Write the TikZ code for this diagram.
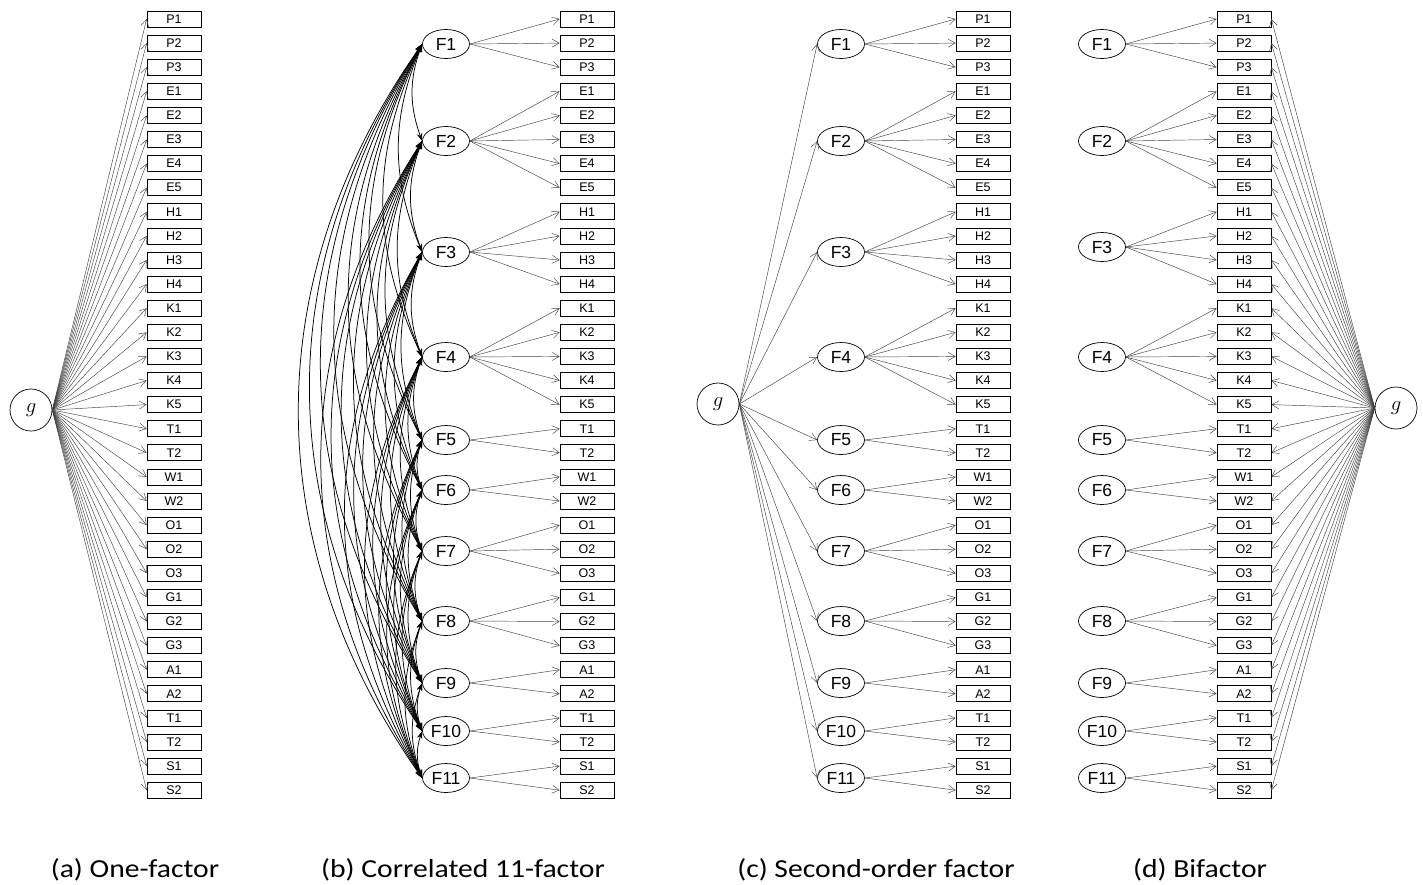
\documentclass[tikz,border=0pt]{standalone}
\usepackage{fontspec}
\setmainfont{Liberation Sans}
\newfontfamily\capfont[FakeStretch=1.14]{Carlito}
\usetikzlibrary{arrows.meta,shapes.geometric}
\tikzset{
 ind/.style={draw=black, line width=0.7pt, minimum width=54pt, minimum height=16pt, inner sep=0pt, font=\fontsize{12.5}{12.5}\selectfont},
 fac/.style={draw=black, line width=0.7pt, ellipse, minimum width=47pt, minimum height=29pt, inner sep=0pt, font=\fontsize{17.5}{17.5}\selectfont},
 gen/.style={draw=black, line width=0.7pt, circle, minimum size=42pt, inner sep=0pt, font=\fontsize{20}{20}\selectfont},
 load/.style={draw=black!75, line width=0.45pt, -{Straight Barb[length=7pt,width=8pt]}},
 cov/.style={draw=black, line width=0.75pt, {Stealth[length=8pt,width=5.5pt]}-{Stealth[length=8pt,width=5.5pt]}},
 captext/.style={font=\capfont\fontsize{26}{26}\selectfont, anchor=base}
}
\begin{document}
\begin{tikzpicture}[x=1pt,y=-1pt]
\useasboundingbox (0,0) rectangle (1423,884);
% indicators
\foreach \lab [count=\i from 0] in {P1,P2,P3,E1,E2,E3,E4,E5,H1,H2,H3,H4,K1,K2,K3,K4,K5,T1,T2,W1,W2,O1,O2,O3,G1,G2,G3,A1,A2,T1,T2,S1,S2}{
  \pgfmathsetmacro\yy{19+\i*24.1}
  \node[ind] (a\i) at (174,\yy) {\lab};
  \node[ind] (b\i) at (587,\yy) {\lab};
  \node[ind] (c\i) at (983,\yy) {\lab};
  \node[ind] (d\i) at (1244,\yy) {\lab};
}
% general factors
\node[gen] (ga) at (31,410) {$g$};
\node[gen] (gc) at (718,404) {$g$};
\node[gen] (gd) at (1396,408) {$g$};
% group factors
\foreach \fy [count=\k] in {44,141,252,357,440,490,551,621,683,731,778}{
  \node[fac] (bF\k) at (446,\fy) {F\k};
  \node[fac] (cF\k) at (841,\fy) {F\k};
}
\foreach \fy [count=\k] in {44,141,247,357,440,490,551,621,683,731,778}{
  \node[fac] (dF\k) at (1102,\fy) {F\k};
}
% (a) one factor and (d) general loadings
\foreach \i in {0,...,32}{
  \draw[load] (ga.east) -- (a\i.west);
  \draw[load] (gd.west) -- (d\i.east);
}
% loadings of group factors
\foreach \k/\s/\e in {1/0/2,2/3/7,3/8/11,4/12/16,5/17/18,6/19/20,7/21/23,8/24/26,9/27/28,10/29/30,11/31/32}{
  \foreach \i in {\s,...,\e}{
    \draw[load] (bF\k.east) -- (b\i.west);
    \draw[load] (cF\k.east) -- (c\i.west);
    \draw[load] (dF\k.east) -- (d\i.west);
  }
  \draw[load] (gc.east) -- (cF\k.west);
}
% (b) correlations
\def\fyb{{44,141,252,357,440,490,551,621,683,731,778}}
\foreach \i in {1,...,10}{
  \pgfmathtruncatemacro\ii{\i+1}
  \foreach \j in {\ii,...,11}{
    \pgfmathsetmacro\ang{20+15*(\fyb[\j-1]-\fyb[\i-1]-97)/637}
    \draw[cov] (bF\i.west) to[bend right=\ang] (bF\j.west);
  }
}
% captions
\node[captext] (capa) at (135,877) {(a) One-factor};
\node[captext] (capb) at (463,877) {(b) Correlated 11-factor};
\node[captext] (capc) at (876,877) {(c) Second-order factor};
\node[captext] (capd) at (1200,877) {(d) Bifactor};
\end{tikzpicture}
\end{document}
